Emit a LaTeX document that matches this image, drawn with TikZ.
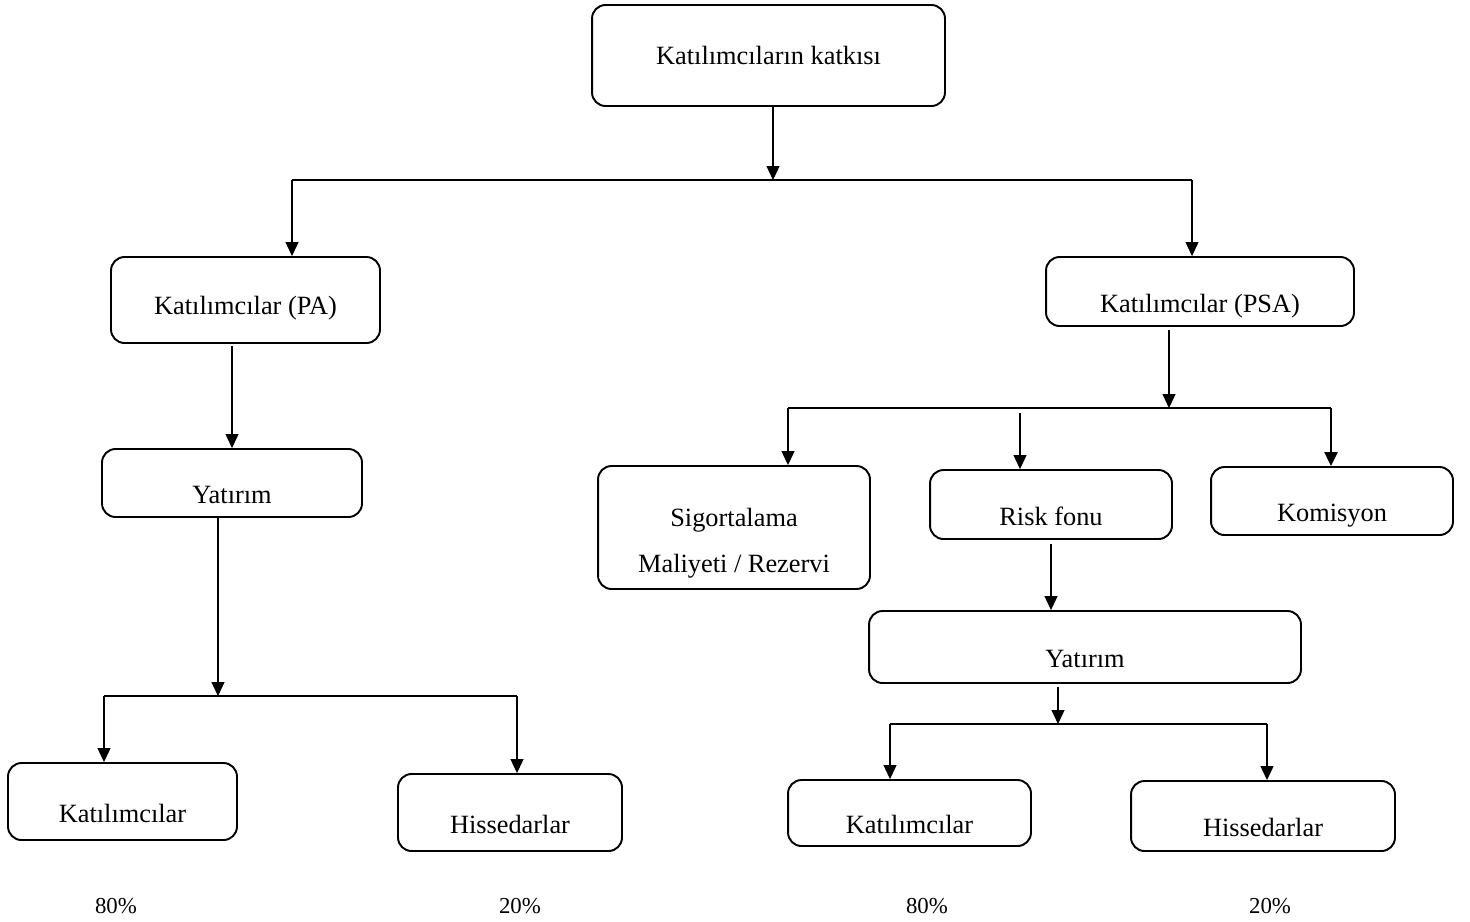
\documentclass[tikz,border=0pt]{standalone}
\usepackage{fontspec}
\setmainfont{Liberation Serif}
\usetikzlibrary{arrows.meta}

\begin{document}
\begin{tikzpicture}[
  x=0.02cm, y=-0.02cm,
  box/.style={draw, line width=1.1pt, rounded corners=0.27cm,
    font=\fontsize{15}{18}\selectfont, inner sep=0pt},
  lowbox/.style={box, text height=0.92cm, text depth=0.1cm},
  midbox/.style={box, text height=0.68cm, text depth=0.1cm},
  twobox/.style={box, align=center, font=\fontsize{15}{26}\selectfont,
    text height=1.88cm, text depth=0.1cm},
  bar/.style={line width=1.2pt},
  arr/.style={-{Triangle[length=0.28cm,width=0.26cm]}, line width=0.65pt},
  pct/.style={font=\fontsize{13}{16}\selectfont},
]
\useasboundingbox (0,0) rectangle (1470,921);

% Top
\node[box, minimum width=7.06cm, minimum height=2.02cm] (top) at (768.5,55.5)
  {Katılımcıların katkısı};
\coordinate (b1l) at (292,180);
\coordinate (b1m) at (773,180);
\coordinate (b1r) at (1192,180);
\draw[arr] (top.south -| b1m) -- (b1m);
\draw[bar] (b1l) -- (b1r);

% Left branch (PA)
\node[midbox, minimum width=5.38cm, minimum height=1.72cm] (pa) at (245.5,300)
  {Katılımcılar (PA)};
\node[lowbox, minimum width=5.2cm, minimum height=1.36cm] (yatL) at (232,483)
  {Yatırım};
\draw[arr] (b1l) -- (b1l |- pa.north);
\draw[arr] ([yshift=-0.04cm]pa.south -| yatL.north) -- (yatL.north);

\coordinate (jL) at (218,696);
\coordinate (bLl) at (104,696);
\coordinate (bLr) at (517,696);
\draw[arr] (yatL.south -| jL) -- (jL);
\draw[bar] (bLl) -- (bLr);

\node[lowbox, minimum width=4.58cm, minimum height=1.54cm] (katL) at (122.5,801.5)
  {Katılımcılar};
\node[lowbox, minimum width=4.48cm, minimum height=1.54cm] (hisL) at (510,812.5)
  {Hissedarlar};
\draw[arr] (bLl) -- (bLl |- katL.north);
\draw[arr] (bLr) -- (bLr |- hisL.north);

\node[pct] (pKatL) at (116,906) {80\%};
\node[pct] (pHisL) at (520,906) {20\%};

% Right branch (PSA)
\node[lowbox, minimum width=6.16cm, minimum height=1.38cm] (psa) at (1200,291.5)
  {Katılımcılar (PSA)};
\draw[arr] (b1r) -- (b1r |- psa.north);

\coordinate (jR) at (1169,408);
\coordinate (bRl) at (788,408);
\coordinate (bRm) at (1020,408);
\coordinate (bRr) at (1331,408);
\draw[arr] ([yshift=-0.06cm]psa.south -| jR) -- (jR);
\draw[bar] (bRl) -- (bRr);

\node[twobox, minimum width=5.44cm, minimum height=2.46cm] (sig) at (734,527.5)
  {Sigortalama\\Maliyeti / Rezervi};
\node[lowbox, minimum width=4.84cm, minimum height=1.38cm] (risk) at (1051,504.5)
  {Risk fonu};
\node[lowbox, minimum width=4.84cm, minimum height=1.36cm] (kom) at (1332,501)
  {Komisyon};
\draw[arr] (bRl) -- (bRl |- sig.north);
\draw[arr] ([yshift=-0.1cm]bRm) -- (bRm |- risk.north);
\draw[arr, line width=1.3pt] (bRr) -- (bRr |- kom.north);

\node[lowbox, minimum width=8.64cm, minimum height=1.44cm] (yatR) at (1085,647)
  {Yatırım};
\draw[arr] ([yshift=-0.08cm]risk.south) -- (risk.south |- yatR.north);

\coordinate (jR2) at (1058,724);
\coordinate (bR2l) at (890,724);
\coordinate (bR2r) at (1267,724);
\draw[arr] ([yshift=-0.06cm]yatR.south -| jR2) -- (jR2);
\draw[bar] (bR2l) -- (bR2r);

\node[lowbox, minimum width=4.86cm, minimum height=1.32cm] (katR) at (909.5,813)
  {Katılımcılar};
\node[lowbox, minimum width=5.28cm, minimum height=1.40cm] (hisR) at (1263,816)
  {Hissedarlar};
\draw[arr] (bR2l) -- (bR2l |- katR.north);
\draw[arr] (bR2r) -- (bR2r |- hisR.north);

\node[pct] (pKatR) at (927,906) {80\%};
\node[pct] (pHisR) at (1270,906) {20\%};

\end{tikzpicture}
\end{document}
